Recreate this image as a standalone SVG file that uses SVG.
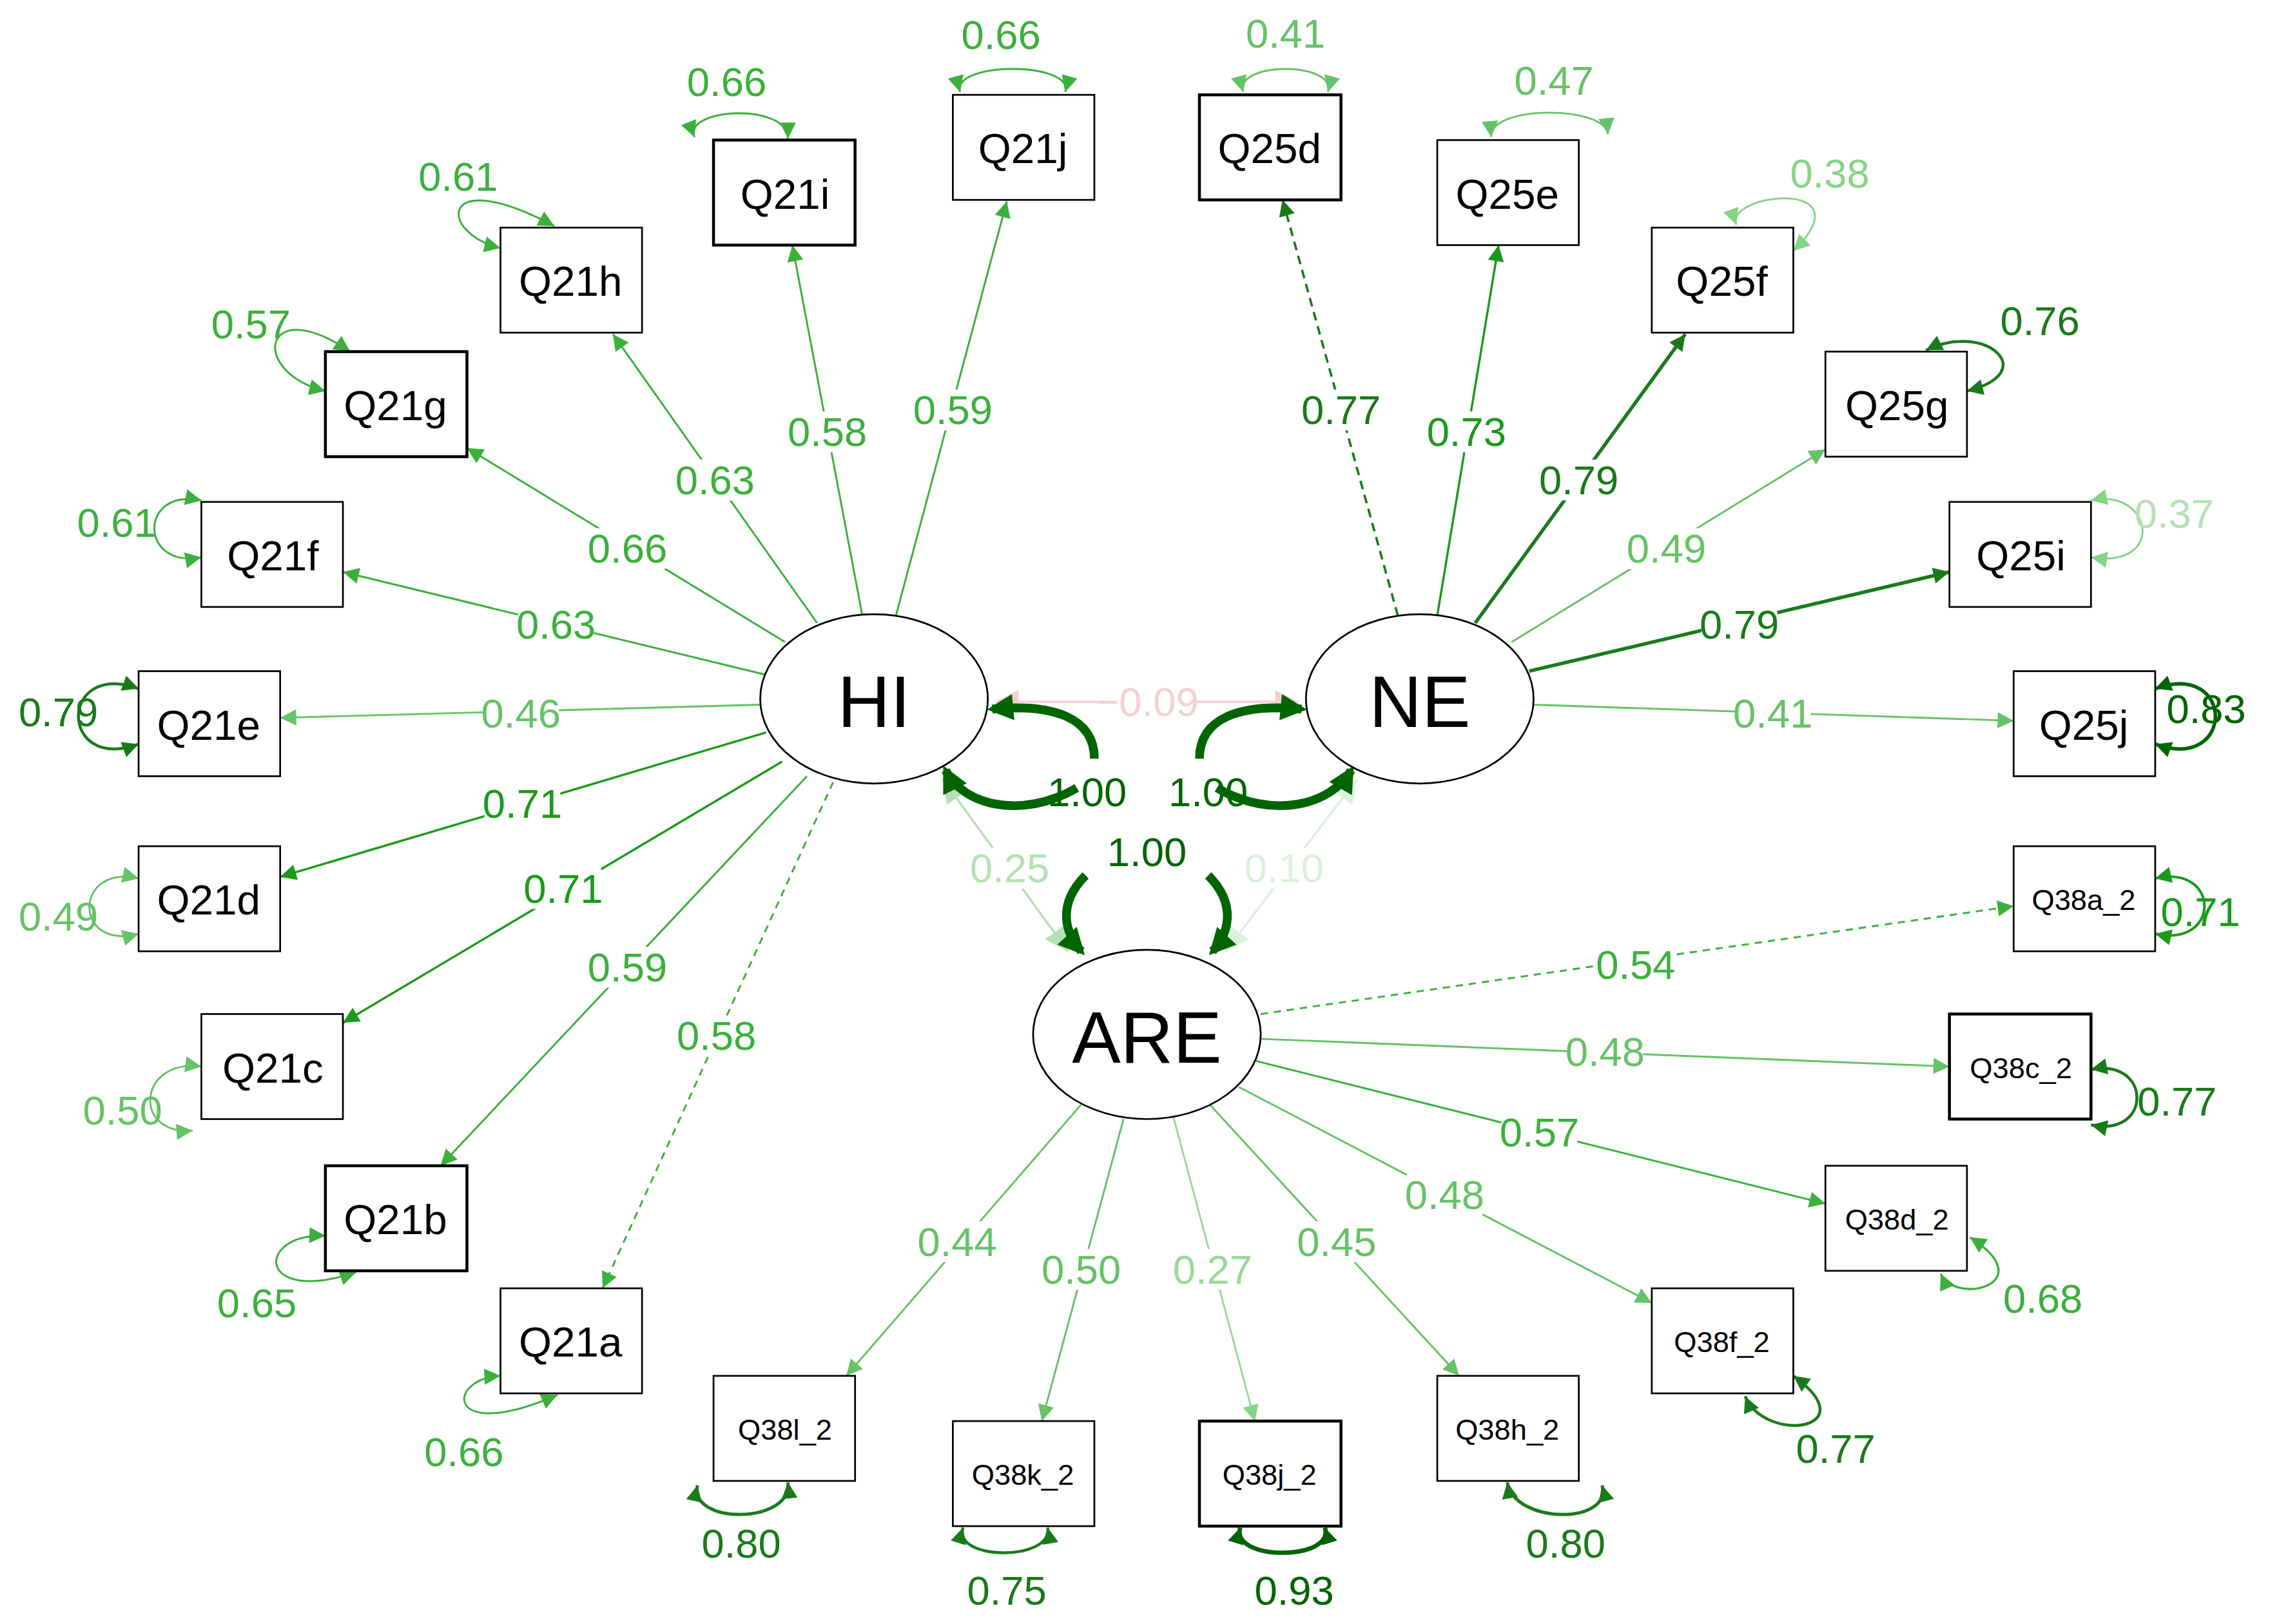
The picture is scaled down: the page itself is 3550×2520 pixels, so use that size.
<svg xmlns="http://www.w3.org/2000/svg" width="3550" height="2520" viewBox="0 0 3550 2520">
<style>
text{font-family:"Liberation Sans",Arial,sans-serif;text-anchor:middle;dominant-baseline:central}
.box{fill:#fff;stroke:#000;stroke-width:1.2}
.bx{fill:#fff;stroke:#000;stroke-width:2}
.lat{fill:#fff;stroke:#000;stroke-width:1.2}
.bt{font-size:29px;fill:#000}
.bs{font-size:20px;fill:#000}
.lt{font-size:50px;fill:#000}
.l{font-size:28px}
.bg rect{fill:#fff;stroke:none}
.c1{stroke:#86d486}.c2{stroke:#66c266}.c3{stroke:#3cb03c}.c4{stroke:#1a9a1a}.c5{stroke:#1a7a1a}.c6{stroke:#006400}
#connectors path,#connectors line{fill:none}
</style>
<defs>
<marker id="m1" viewBox="0 0 10 10" refX="10" refY="5" markerWidth="16" markerHeight="11" markerUnits="userSpaceOnUse" orient="auto-start-reverse"><path d="M0,0L10,5L0,10z" fill="#86d486"/></marker>
<marker id="m2" viewBox="0 0 10 10" refX="10" refY="5" markerWidth="16" markerHeight="11" markerUnits="userSpaceOnUse" orient="auto-start-reverse"><path d="M0,0L10,5L0,10z" fill="#66c266"/></marker>
<marker id="m3" viewBox="0 0 10 10" refX="10" refY="5" markerWidth="16" markerHeight="11" markerUnits="userSpaceOnUse" orient="auto-start-reverse"><path d="M0,0L10,5L0,10z" fill="#3cb03c"/></marker>
<marker id="m4" viewBox="0 0 10 10" refX="10" refY="5" markerWidth="16" markerHeight="11" markerUnits="userSpaceOnUse" orient="auto-start-reverse"><path d="M0,0L10,5L0,10z" fill="#1a9a1a"/></marker>
<marker id="m5" viewBox="0 0 10 10" refX="10" refY="5" markerWidth="16" markerHeight="11" markerUnits="userSpaceOnUse" orient="auto-start-reverse"><path d="M0,0L10,5L0,10z" fill="#1a7a1a"/></marker>
<marker id="m6" viewBox="0 0 10 10" refX="10" refY="5" markerWidth="16" markerHeight="11" markerUnits="userSpaceOnUse" orient="auto-start-reverse"><path d="M0,0L10,5L0,10z" fill="#006400"/></marker>
<marker id="mB" viewBox="0 0 10 10" refX="8" refY="5" markerWidth="22" markerHeight="18" markerUnits="userSpaceOnUse" orient="auto-start-reverse"><path d="M0,0L10,5L0,10z" fill="#006400"/></marker>
<marker id="mP" viewBox="0 0 10 10" refX="10" refY="5" markerWidth="20" markerHeight="16" markerUnits="userSpaceOnUse" orient="auto-start-reverse"><path d="M0,0L10,5L0,10z" fill="#f6d0d0"/></marker>
<marker id="mL" viewBox="0 0 10 10" refX="10" refY="5" markerWidth="20" markerHeight="16" markerUnits="userSpaceOnUse" orient="auto-start-reverse"><path d="M0,0L10,5L0,10z" fill="#b5e0b5"/></marker>
<marker id="mF" viewBox="0 0 10 10" refX="10" refY="5" markerWidth="20" markerHeight="16" markerUnits="userSpaceOnUse" orient="auto-start-reverse"><path d="M0,0L10,5L0,10z" fill="#dcf1dc"/></marker>
</defs>
<rect width="3550" height="2520" fill="#fff"/>
<g transform="scale(2.264)">
<g id="connectors">
<line x1="682" y1="481" x2="890" y2="481" stroke="#f6d0d0" stroke-width="1.5" marker-start="url(#mP)" marker-end="url(#mP)"/>
<line x1="646" y1="534" x2="732" y2="652" stroke="#b5e0b5" stroke-width="1.5" marker-start="url(#mL)" marker-end="url(#mL)"/>
<line x1="930" y1="534" x2="840" y2="652" stroke="#dcf1dc" stroke-width="1.5" marker-start="url(#mF)" marker-end="url(#mF)"/>
<path d="M750,520 C750,492 722,482 680,486" stroke="#006400" stroke-width="6" marker-end="url(#mB)"/>
<path d="M738,540 C700,562 660,552 648,528" stroke="#006400" stroke-width="6" marker-end="url(#mB)"/>
<path d="M822,520 C822,492 850,482 892,486" stroke="#006400" stroke-width="6" marker-end="url(#mB)"/>
<path d="M834,540 C872,562 912,552 926,528" stroke="#006400" stroke-width="6" marker-end="url(#mB)"/>
<path d="M744,600 C724,620 730,640 741,652" stroke="#006400" stroke-width="6" marker-end="url(#mB)"/>
<path d="M828,600 C848,620 842,640 831,652" stroke="#006400" stroke-width="6" marker-end="url(#mB)"/>
<line x1="614" y1="422" x2="690" y2="138" class="c3" stroke-width="1.3" marker-end="url(#m3)"/>
<line x1="591" y1="422" x2="543" y2="168" class="c3" stroke-width="1.3" marker-end="url(#m3)"/>
<line x1="560" y1="427" x2="420" y2="229" class="c3" stroke-width="1.3" marker-end="url(#m3)"/>
<line x1="538" y1="440" x2="320" y2="307" class="c3" stroke-width="1.3" marker-end="url(#m3)"/>
<line x1="527" y1="463" x2="235" y2="392" class="c3" stroke-width="1.3" marker-end="url(#m3)"/>
<line x1="521" y1="483" x2="192" y2="492" class="c2" stroke-width="1.3" marker-end="url(#m2)"/>
<line x1="525" y1="502" x2="192" y2="601" class="c4" stroke-width="1.5" marker-end="url(#m4)"/>
<line x1="536" y1="522" x2="235" y2="701" class="c4" stroke-width="1.5" marker-end="url(#m4)"/>
<line x1="553" y1="532" x2="302" y2="799" class="c3" stroke-width="1.3" marker-end="url(#m3)"/>
<line x1="571" y1="536" x2="413" y2="883" class="c3" stroke-width="1.3" stroke-dasharray="5,4" marker-end="url(#m3)"/>
<line x1="958" y1="422" x2="879" y2="137" class="c5" stroke-width="1.6" stroke-dasharray="6,4" marker-end="url(#m5)"/>
<line x1="985" y1="422" x2="1027" y2="168" class="c4" stroke-width="1.5" marker-end="url(#m4)"/>
<line x1="1011" y1="427" x2="1155" y2="229" class="c5" stroke-width="2.4" marker-end="url(#m5)"/>
<line x1="1036" y1="440" x2="1251" y2="308" class="c2" stroke-width="1.3" marker-end="url(#m2)"/>
<line x1="1048" y1="460" x2="1336" y2="392" class="c5" stroke-width="2.4" marker-end="url(#m5)"/>
<line x1="1051" y1="483" x2="1380" y2="494" class="c2" stroke-width="1.3" marker-end="url(#m2)"/>
<line x1="864" y1="695" x2="1380" y2="621" class="c3" stroke-width="1.3" stroke-dasharray="5,4" marker-end="url(#m3)"/>
<line x1="864" y1="712" x2="1336" y2="731" class="c2" stroke-width="1.3" marker-end="url(#m2)"/>
<line x1="860" y1="727" x2="1251" y2="825" class="c3" stroke-width="1.3" marker-end="url(#m3)"/>
<line x1="849" y1="745" x2="1132" y2="893" class="c2" stroke-width="1.3" marker-end="url(#m2)"/>
<line x1="829" y1="757" x2="1000" y2="943" class="c2" stroke-width="1.3" marker-end="url(#m2)"/>
<line x1="804" y1="765" x2="860" y2="974" stroke="#9ad89a" stroke-width="1.3" marker-end="url(#m1)"/>
<line x1="770" y1="767" x2="714" y2="974" class="c2" stroke-width="1.3" marker-end="url(#m2)"/>
<line x1="741" y1="757" x2="580" y2="943" class="c2" stroke-width="1.3" marker-end="url(#m2)"/>
<path d="M658,63 C652,42 736,42 730,63" class="c3" stroke-width="1.3" marker-start="url(#m3)" marker-end="url(#m3)"/>
<path d="M476,94 C468,74 540,70 540,95" class="c3" stroke-width="1.3" marker-start="url(#m3)" marker-end="url(#m3)"/>
<path d="M343,170 C300,160 300,112 380,155" class="c3" stroke-width="1.3" marker-start="url(#m3)" marker-end="url(#m3)"/>
<path d="M223,268 C170,255 180,200 240,241" class="c3" stroke-width="1.3" marker-start="url(#m3)" marker-end="url(#m3)"/>
<path d="M138,382 C95,390 95,334 138,343" class="c3" stroke-width="1.3" marker-start="url(#m3)" marker-end="url(#m3)"/>
<path d="M95,472 C40,452 40,530 95,510" class="c5" stroke-width="2" marker-start="url(#m5)" marker-end="url(#m5)"/>
<path d="M95,602 C50,592 50,652 95,640" class="c2" stroke-width="1.3" marker-start="url(#m2)" marker-end="url(#m2)"/>
<path d="M138,731 C95,725 90,778 132,775" class="c2" stroke-width="1.3" marker-start="url(#m2)" marker-end="url(#m2)"/>
<path d="M223,847 C175,845 175,895 244,872" class="c3" stroke-width="1.3" marker-start="url(#m3)" marker-end="url(#m3)"/>
<path d="M343,943 C305,945 305,990 382,956" class="c3" stroke-width="1.3" marker-start="url(#m3)" marker-end="url(#m3)"/>
<path d="M852,63 C846,42 916,42 910,63" class="c2" stroke-width="1.3" marker-start="url(#m2)" marker-end="url(#m2)"/>
<path d="M1022,94 C1020,72 1100,72 1102,92" class="c2" stroke-width="1.3" marker-start="url(#m2)" marker-end="url(#m2)"/>
<path d="M1190,154 C1182,132 1280,122 1229,172" class="c1" stroke-width="1.3" marker-start="url(#m1)" marker-end="url(#m1)"/>
<path d="M1320,240 C1360,220 1400,255 1348,268" class="c5" stroke-width="2" marker-start="url(#m5)" marker-end="url(#m5)"/>
<path d="M1433,343 C1475,334 1485,390 1433,382" class="c1" stroke-width="1.3" marker-start="url(#m1)" marker-end="url(#m1)"/>
<path d="M1477,472 C1532,452 1532,530 1477,510" class="c6" stroke-width="2.4" marker-start="url(#m6)" marker-end="url(#m6)"/>
<path d="M1477,602 C1522,592 1522,650 1477,640" class="c4" stroke-width="1.8" marker-start="url(#m4)" marker-end="url(#m4)"/>
<path d="M1433,733 C1475,725 1475,780 1433,771" class="c5" stroke-width="2" marker-start="url(#m5)" marker-end="url(#m5)"/>
<path d="M1330,873 C1340,895 1400,880 1350,848" class="c3" stroke-width="1.5" marker-start="url(#m3)" marker-end="url(#m3)"/>
<path d="M1196,957 C1210,990 1280,980 1229,943" class="c5" stroke-width="2" marker-start="url(#m5)" marker-end="url(#m5)"/>
<path d="M478,1018 C472,1045 543,1045 540,1016" class="c5" stroke-width="2.2" marker-start="url(#m5)" marker-end="url(#m5)"/>
<path d="M660,1047 C653,1070 722,1070 718,1047" class="c5" stroke-width="2" marker-start="url(#m5)" marker-end="url(#m5)"/>
<path d="M850,1047 C843,1070 915,1070 908,1047" class="c6" stroke-width="3" marker-start="url(#m6)" marker-end="url(#m6)"/>
<path d="M1033,1016 C1038,1045 1105,1045 1098,1018" class="c5" stroke-width="2.2" marker-start="url(#m5)" marker-end="url(#m5)"/>
<g class="bg">
<rect x="758" y="467" width="58" height="28"/>
<rect x="664" y="581" width="56" height="28"/><rect x="852" y="581" width="56" height="28"/>
<rect x="627" y="267" width="52" height="28"/><rect x="541" y="282" width="52" height="28"/><rect x="464" y="315" width="52" height="28"/>
<rect x="404" y="362" width="52" height="28"/><rect x="355" y="414" width="52" height="28"/><rect x="331" y="475" width="52" height="28"/>
<rect x="332" y="537" width="52" height="28"/><rect x="360" y="595" width="52" height="28"/><rect x="404" y="649" width="52" height="28"/>
<rect x="465" y="696" width="52" height="28"/>
<rect x="893" y="267" width="52" height="28"/><rect x="979" y="282" width="52" height="28"/><rect x="1056" y="315" width="52" height="28"/>
<rect x="1116" y="362" width="52" height="28"/><rect x="1166" y="414" width="52" height="28"/><rect x="1189" y="475" width="52" height="28"/>
<rect x="1095" y="647" width="52" height="28"/><rect x="1074" y="707" width="52" height="28"/><rect x="1029" y="762" width="52" height="28"/>
<rect x="964" y="805" width="52" height="28"/><rect x="890" y="837" width="52" height="28"/><rect x="805" y="856" width="52" height="28"/>
<rect x="715" y="856" width="52" height="28"/><rect x="630" y="837" width="52" height="28"/>
</g>
<text x="786" y="481" class="l" fill="#f6d0d0">−0.09</text>
<text x="692" y="595" class="l" fill="#b5e0b5">0.25</text>
<text x="880" y="595" class="l" fill="#dcf1dc">0.10</text>
<text x="745" y="543" class="l" fill="#006400">1.00</text>
<text x="828" y="543" class="l" fill="#006400">1.00</text>
<text x="786" y="584" class="l" fill="#006400">1.00</text>
<text x="653" y="281" class="l" fill="#3cb03c">0.59</text>
<text x="567" y="296" class="l" fill="#3cb03c">0.58</text>
<text x="490" y="329" class="l" fill="#3cb03c">0.63</text>
<text x="430" y="376" class="l" fill="#3cb03c">0.66</text>
<text x="381" y="428" class="l" fill="#3cb03c">0.63</text>
<text x="357" y="489" class="l" fill="#66c266">0.46</text>
<text x="358" y="551" class="l" fill="#1a9a1a">0.71</text>
<text x="386" y="609" class="l" fill="#1a9a1a">0.71</text>
<text x="430" y="663" class="l" fill="#3cb03c">0.59</text>
<text x="491" y="710" class="l" fill="#3cb03c">0.58</text>
<text x="919" y="281" class="l" fill="#1a7a1a">0.77</text>
<text x="1005" y="296" class="l" fill="#1a9a1a">0.73</text>
<text x="1082" y="329" class="l" fill="#1a7a1a">0.79</text>
<text x="1142" y="376" class="l" fill="#66c266">0.49</text>
<text x="1192" y="428" class="l" fill="#1a7a1a">0.79</text>
<text x="1215" y="489" class="l" fill="#66c266">0.41</text>
<text x="1121" y="661" class="l" fill="#3cb03c">0.54</text>
<text x="1100" y="721" class="l" fill="#66c266">0.48</text>
<text x="1055" y="776" class="l" fill="#3cb03c">0.57</text>
<text x="990" y="819" class="l" fill="#66c266">0.48</text>
<text x="916" y="851" class="l" fill="#66c266">0.45</text>
<text x="831" y="870" class="l" fill="#9ad89a">0.27</text>
<text x="741" y="870" class="l" fill="#66c266">0.50</text>
<text x="656" y="851" class="l" fill="#66c266">0.44</text>
<text x="686" y="24" class="l" fill="#3cb03c">0.66</text>
<text x="498" y="56" class="l" fill="#3cb03c">0.66</text>
<text x="314" y="121" class="l" fill="#3cb03c">0.61</text>
<text x="172" y="222" class="l" fill="#3cb03c">0.57</text>
<text x="80" y="358" class="l" fill="#3cb03c">0.61</text>
<text x="40" y="488" class="l" fill="#1a7a1a">0.79</text>
<text x="40" y="628" class="l" fill="#66c266">0.49</text>
<text x="84" y="761" class="l" fill="#66c266">0.50</text>
<text x="176" y="893" class="l" fill="#3cb03c">0.65</text>
<text x="318" y="995" class="l" fill="#3cb03c">0.66</text>
<text x="881" y="23" class="l" fill="#66c266">0.41</text>
<text x="1065" y="55" class="l" fill="#66c266">0.47</text>
<text x="1254" y="119" class="l" fill="#86d486">0.38</text>
<text x="1398" y="220" class="l" fill="#1a7a1a">0.76</text>
<text x="1490" y="352" class="l" fill="#b5e0b5">0.37</text>
<text x="1512" y="486" class="l" fill="#006400">0.83</text>
<text x="1508" y="625" class="l" fill="#1a9a1a">0.71</text>
<text x="1492" y="755" class="l" fill="#1a7a1a">0.77</text>
<text x="1400" y="890" class="l" fill="#3cb03c">0.68</text>
<text x="1258" y="993" class="l" fill="#1a7a1a">0.77</text>
<text x="1073" y="1058" class="l" fill="#1a7a1a">0.80</text>
<text x="887" y="1090" class="l" fill="#006400">0.93</text>
<text x="690" y="1090" class="l" fill="#1a7a1a">0.75</text>
<text x="508" y="1058" class="l" fill="#1a7a1a">0.80</text>
</g>
<g id="HI"><ellipse cx="599" cy="479" rx="78" ry="58" class="lat"/><text x="599" y="481" class="lt">HI</text></g>
<g id="NE"><ellipse cx="973" cy="479" rx="78" ry="58" class="lat"/><text x="973" y="481" class="lt">NE</text></g>
<g id="ARE"><ellipse cx="786" cy="709" rx="78" ry="58" class="lat"/><text x="786" y="711" class="lt">ARE</text></g>
<g id="Q21j"><rect x="653" y="65" width="97" height="72" class="box"/><text x="701" y="102" class="bt">Q21j</text></g>
<g id="Q21i"><rect x="489" y="96" width="97" height="72" class="bx"/><text x="538" y="133" class="bt">Q21i</text></g>
<g id="Q21h"><rect x="343" y="156" width="97" height="72" class="box"/><text x="391" y="193" class="bt">Q21h</text></g>
<g id="Q21g"><rect x="223" y="241" width="97" height="72" class="bx"/><text x="271" y="278" class="bt">Q21g</text></g>
<g id="Q21f"><rect x="138" y="344" width="97" height="72" class="box"/><text x="187" y="381" class="bt">Q21f</text></g>
<g id="Q21e"><rect x="95" y="460" width="97" height="72" class="box"/><text x="143" y="497" class="bt">Q21e</text></g>
<g id="Q21d"><rect x="95" y="580" width="97" height="72" class="box"/><text x="143" y="617" class="bt">Q21d</text></g>
<g id="Q21c"><rect x="138" y="695" width="97" height="72" class="box"/><text x="187" y="732" class="bt">Q21c</text></g>
<g id="Q21b"><rect x="223" y="799" width="97" height="72" class="bx"/><text x="271" y="836" class="bt">Q21b</text></g>
<g id="Q21a"><rect x="343" y="883" width="97" height="72" class="box"/><text x="391" y="920" class="bt">Q21a</text></g>
<g id="Q25d"><rect x="822" y="65" width="97" height="72" class="bx"/><text x="870" y="102" class="bt">Q25d</text></g>
<g id="Q25e"><rect x="985" y="96" width="97" height="72" class="box"/><text x="1033" y="133" class="bt">Q25e</text></g>
<g id="Q25f"><rect x="1132" y="156" width="97" height="72" class="box"/><text x="1180" y="193" class="bt">Q25f</text></g>
<g id="Q25g"><rect x="1251" y="241" width="97" height="72" class="box"/><text x="1300" y="278" class="bt">Q25g</text></g>
<g id="Q25i"><rect x="1336" y="344" width="97" height="72" class="box"/><text x="1385" y="381" class="bt">Q25i</text></g>
<g id="Q25j"><rect x="1380" y="460" width="97" height="72" class="box"/><text x="1428" y="497" class="bt">Q25j</text></g>
<g id="Q38a_2"><rect x="1380" y="580" width="97" height="72" class="box"/><text x="1428" y="617" class="bs">Q38a_2</text></g>
<g id="Q38c_2"><rect x="1336" y="695" width="97" height="72" class="bx"/><text x="1385" y="732" class="bs">Q38c_2</text></g>
<g id="Q38d_2"><rect x="1251" y="799" width="97" height="72" class="box"/><text x="1300" y="836" class="bs">Q38d_2</text></g>
<g id="Q38f_2"><rect x="1132" y="883" width="97" height="72" class="box"/><text x="1180" y="920" class="bs">Q38f_2</text></g>
<g id="Q38h_2"><rect x="985" y="943" width="97" height="72" class="box"/><text x="1033" y="980" class="bs">Q38h_2</text></g>
<g id="Q38j_2"><rect x="822" y="974" width="97" height="72" class="bx"/><text x="870" y="1011" class="bs">Q38j_2</text></g>
<g id="Q38k_2"><rect x="653" y="974" width="97" height="72" class="box"/><text x="701" y="1011" class="bs">Q38k_2</text></g>
<g id="Q38l_2"><rect x="489" y="943" width="97" height="72" class="box"/><text x="538" y="980" class="bs">Q38l_2</text></g>
</g>
</svg>
